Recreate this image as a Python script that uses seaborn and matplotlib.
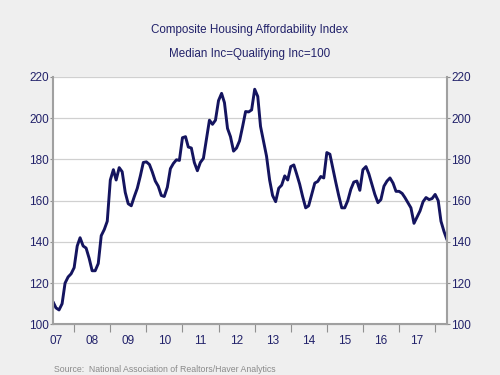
import numpy as np
import pandas as pd
import matplotlib
matplotlib.use("Agg")
import matplotlib.pyplot as plt
import matplotlib.dates as mdates
import seaborn as sns

# --- DATA (monthly) ---
START = "2007-06-01"
HAI = [
    111, 108, 107, 110, 120, 123, 124.5, 127.5, 138, 142,
    138, 137, 132, 126, 126, 129.5, 143, 146, 150, 170,
    175, 170, 176, 174, 164, 158.5, 157.5, 162, 166, 172,
    178.5, 178.8, 177.5, 174, 169.5, 167, 162.5, 162, 166.5, 175.5,
    178, 179.8, 179.5, 190.5, 191, 186, 185.5, 178.5, 174.5, 178.5,
    180.5, 190, 199, 197, 199, 208.5, 212, 207.5, 195, 191,
    184, 185.5, 189, 196, 203.2, 203, 204, 214, 210.5, 196,
    188.5, 181.5, 170, 162.5, 159.5, 166, 167.5, 172, 170, 176.5,
    177.3, 173, 168, 162, 156.5, 157.5, 163, 168.5, 169.3, 171.7,
    171, 183.3, 182.5, 176, 169, 162.5, 156.5, 156.5, 160, 165.5,
    169, 169.5, 165, 175, 176.5, 173, 168, 163, 159, 160.5,
    167, 169.5, 171, 168.5, 164.5, 164.5, 163.5, 161.5, 159, 156.5,
    149, 152, 155, 159.5, 161.5, 160.5, 161, 163, 160, 150,
    145, 141,
]
YEAR_LABELS = ["07", "08", "09", "10", "11", "12", "13", "14", "15", "16", "17"]
Y_TICKS = [100, 120, 140, 160, 180, 200, 220]

TITLE = "Composite Housing Affordability Index"
SUBTITLE = "Median Inc=Qualifying Inc=100"
SOURCE = "Source:  National Association of Realtors/Haver Analytics"

NAVY = "#14145f"
TEXT = "#22226a"

df = pd.DataFrame({
    "date": pd.date_range(START, periods=len(HAI), freq="MS"),
    "hai": HAI,
})

sns.set_style("white")
plt.rcParams["font.family"] = ["Liberation Sans", "DejaVu Sans"]

fig = plt.figure(figsize=(5, 3.75), dpi=100, facecolor="#efefef")
ax = fig.add_axes([0.106, 0.135, 0.788, 0.66])
ax.set_facecolor("white")

sns.lineplot(data=df, x="date", y="hai", ax=ax, color=NAVY, linewidth=2.1)

ax.set_xlim(df["date"].iloc[0], df["date"].iloc[-1])
ax.set_ylim(100, 220)
ax.set_yticks(Y_TICKS)
ax.yaxis.grid(True, color="#d0d0d0", linewidth=0.9)
ax.set_xlabel("")
ax.set_ylabel("")

# y labels on both sides
ax.tick_params(axis="y", left=True, right=True, labelleft=True, labelright=True,
               length=2, width=0.8, color="#909090", labelsize=8.5,
               labelcolor=TEXT, direction="out", pad=1)

# year labels at mid-year, no tick mark
mid_years = [pd.Timestamp(f"20{y}-07-01") for y in YEAR_LABELS]
ax.set_xticks(mid_years)
ax.set_xticklabels(YEAR_LABELS)
ax.tick_params(axis="x", length=0, labelsize=8.5, labelcolor=TEXT, pad=8)
ax.xaxis.set_minor_locator(mdates.MonthLocator(bymonth=[1, 4, 7, 10]))
ax.tick_params(axis="x", which="minor", length=2.5, width=0.7, color="#909090")

# longer ticks at year boundaries
sec = ax.secondary_xaxis("bottom")
sec.set_xticks([pd.Timestamp(f"20{y}-01-01") for y in YEAR_LABELS[1:]] + [pd.Timestamp("2018-01-01")])
sec.tick_params(length=6, width=0.8, color="#909090", labelbottom=False)
sec.spines["bottom"].set_color("#a0a0a0")

for side in ["left", "right", "bottom"]:
    ax.spines[side].set_color("#a0a0a0")
    ax.spines[side].set_linewidth(1.5)
ax.spines["top"].set_visible(False)

fig.text(0.5, 0.92, TITLE, ha="center", va="center", fontsize=8.4, color=TEXT)
fig.text(0.5, 0.856, SUBTITLE, ha="center", va="center", fontsize=8.4, color=TEXT)
fig.text(0.108, 0.004, SOURCE, ha="left", va="bottom", fontsize=6.3, color="#8a8a8a")

fig.savefig("out.png", dpi=100, facecolor=fig.get_facecolor())
